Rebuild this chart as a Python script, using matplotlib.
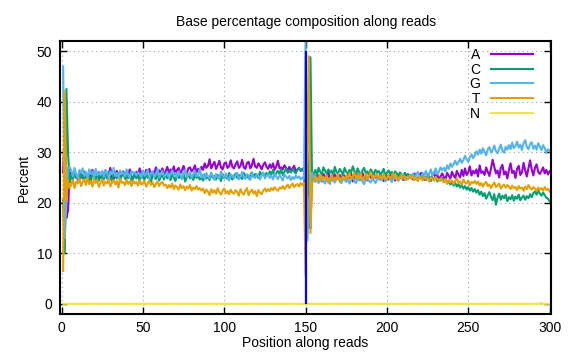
import matplotlib
matplotlib.use("Agg")
from matplotlib import pyplot as plt

# percent of each base at every read position (1..300)
a_pct = [
    26.0, 35.0, 17.0, 18.5, 26.0,
    25.8, 24.9, 26.3, 25.1, 24.6, 26.0, 25.4, 24.8, 26.2, 25.0, 25.7, 24.4, 25.9, 26.5, 25.2, 24.7, 25.6, 26.1, 24.9, 25.3,
    25.8, 26.4, 24.8, 25.5, 26.9, 25.0, 24.6, 25.9, 26.3, 25.1, 24.7, 25.6, 26.2, 25.3, 24.9, 25.8, 26.6, 25.2, 24.8, 25.7,
    26.1, 25.4, 26.8, 25.7, 26.3, 25.0, 26.5, 25.9, 26.7, 25.3, 26.2, 25.8, 27.0, 25.5, 26.4, 25.9, 26.8, 25.6, 26.2, 27.1,
    25.9, 26.6, 26.0, 27.2, 25.8, 26.5, 26.9, 25.7, 26.4, 27.3, 26.1, 25.9, 26.8, 27.0, 26.2, 26.6, 27.4, 26.0, 26.7, 26.3,
    27.1, 26.5, 27.8, 26.9, 27.3, 28.6, 26.8, 27.5, 28.1, 26.7, 27.4, 28.3, 27.0, 26.6, 27.7, 28.0, 26.9, 27.2, 28.4, 27.1,
    26.8, 27.6, 28.2, 26.9, 27.3, 28.5, 27.0, 26.7, 27.9, 28.1, 26.8, 27.4, 28.7, 27.2, 26.9, 27.8, 27.3, 26.6, 27.5, 28.0,
    27.1, 26.7, 27.6, 26.9, 27.8, 26.5, 27.2, 28.3, 26.8, 27.0, 26.6, 27.4, 26.9, 26.3, 27.1, 26.5, 26.8, 27.3, 26.2, 26.6,
    26.9, 26.3, 26.7, 26.1,
    22.0, 30.0, 16.0, 15.0, 26.0,
    25.3, 24.6, 25.8, 24.9, 25.4, 24.2, 25.7, 25.1, 24.5, 25.9, 24.8, 25.2, 24.4, 25.6, 25.0, 24.7, 25.5, 24.3, 25.8, 25.1,
    24.6, 25.4, 24.9, 25.7, 24.2, 25.3, 24.8, 25.6, 25.0, 24.5, 25.9, 24.7, 25.2, 24.4, 25.5, 25.1, 24.6, 25.8, 24.9, 25.3,
    24.7, 25.4, 25.0, 24.3, 25.7, 25.2, 24.6, 25.5, 24.9, 25.8, 24.4, 25.1, 25.6, 24.8, 25.3, 24.5, 25.9, 25.0, 24.7, 25.4,
    25.2, 24.6, 25.8, 25.0, 24.4, 25.5, 25.9, 24.8, 25.3, 24.5, 25.7, 25.1, 24.6, 25.4, 26.0, 24.9, 25.5, 24.7, 25.2, 25.8,
    25.1, 24.6, 25.9, 25.3, 24.8, 26.1, 25.4, 24.9, 26.3, 25.6, 25.0, 26.5, 25.3, 26.8, 25.5, 26.0, 27.2, 25.4, 26.3, 25.8,
    26.6, 25.2, 27.4, 25.9, 26.2, 25.5, 27.0, 26.1, 25.3, 26.8, 28.5, 27.1, 25.8, 26.4, 25.0, 26.9, 27.5, 25.6, 26.2, 24.8,
    26.5, 27.8, 25.9, 26.3, 24.9, 26.7, 27.3, 25.5, 26.0, 27.9, 26.4, 25.2, 26.8, 28.4, 26.6, 25.4, 26.9, 27.6, 26.1, 25.7,
    26.3, 27.0, 25.8, 26.5, 25.6, 26.2,
]
c_pct = [
    20.5, 10.0, 42.5, 30.0, 24.0,
    25.6, 24.5, 26.1, 24.9, 25.3, 24.2, 25.8, 25.0, 24.6, 26.0, 24.8, 25.4, 24.1, 25.7, 25.2, 24.7, 25.9, 24.4, 25.5, 25.1,
    24.6, 25.7, 24.9, 26.2, 25.0, 24.3, 25.6, 25.2, 24.8, 25.9, 24.5, 25.3, 26.0, 24.7, 25.4, 24.9, 25.8, 24.4, 25.1, 25.6,
    24.8, 25.5, 24.2, 25.9, 25.0, 24.6, 25.7, 24.9, 25.3, 24.1, 25.6, 25.2, 24.7, 25.8, 24.4, 25.1, 25.5, 24.6, 25.9, 24.8,
    25.3, 24.5, 25.7, 25.0, 24.3, 25.6, 24.9, 25.4, 24.7, 25.8, 24.2, 25.1, 25.5, 24.8, 25.2, 24.5, 25.7, 24.9, 25.3, 24.6,
    25.0, 24.4, 25.6, 24.8, 25.2, 24.5, 25.8, 24.9, 25.3, 24.6, 25.5, 25.0, 24.3, 25.7, 24.8, 25.4, 24.7, 25.9, 25.1, 24.6,
    25.3, 25.8, 24.9, 25.5, 25.1, 24.7, 25.9, 25.2, 25.6, 24.8, 25.4, 26.0, 25.1, 25.7, 25.3, 24.9, 26.1, 25.5, 25.8, 25.2,
    25.9, 25.4, 26.2, 25.6, 26.5, 25.3, 25.9, 26.3, 25.7, 26.6, 25.5, 26.1, 26.8, 25.9, 26.4, 26.0, 26.7, 26.2, 25.8, 26.5,
    26.9, 26.3, 26.6, 26.9,
    20.0, 27.5, 15.0, 48.8, 24.0,
    25.8, 26.5, 25.4, 26.9, 26.1, 25.6, 27.0, 26.3, 25.7, 26.6, 25.9, 26.4, 25.5, 27.1, 26.0, 25.8, 26.7, 26.2, 25.6, 26.9,
    26.1, 25.7, 26.5, 25.9, 27.2, 26.3, 25.6, 26.8, 26.0, 25.5, 26.4, 26.9, 25.8, 26.2, 25.4, 26.6, 26.1, 25.7, 26.5, 25.9,
    26.3, 25.6, 26.0, 26.7, 25.4, 25.9, 26.4, 25.7, 26.1, 25.5, 26.2, 25.8, 25.3, 26.0, 25.6, 25.1, 25.9, 25.4, 25.7, 25.2,
    25.5, 24.9, 25.6, 25.0, 24.6, 25.3, 24.8, 25.4, 24.5, 25.1, 24.7, 25.2, 24.3, 24.9, 24.6, 25.0, 24.2, 24.8, 24.4, 24.9,
    24.1, 24.6, 23.8, 24.3, 23.6, 24.0, 23.4, 23.9, 23.2, 23.7, 23.0, 23.5, 22.8, 23.3, 22.6, 23.1, 22.4, 22.9, 22.2, 22.7,
    22.0, 22.5, 21.6, 22.2, 21.3, 21.9, 20.8, 21.5, 22.1, 21.2, 20.5, 21.7, 19.6, 21.0, 21.8, 20.6, 21.4, 20.9, 21.6, 20.3,
    21.1, 20.7, 21.5, 20.4, 21.2, 20.8, 21.6, 20.5, 21.0, 21.4, 20.6, 21.3, 20.9, 21.7, 21.1, 21.9, 22.2, 21.6, 22.4, 21.8,
    21.4, 22.0, 21.5, 21.0, 20.8, 20.3,
]
g_pct = [
    47.0, 13.0, 20.0, 27.0, 27.0,
    26.4, 25.2, 26.9, 25.6, 24.8, 26.5, 25.9, 26.8, 25.3, 26.1, 24.9, 26.6, 25.7, 26.2, 25.0, 26.7, 25.4, 26.0, 25.5, 26.3,
    25.1, 26.5, 25.8, 24.7, 26.2, 25.6, 26.9, 25.3, 25.9, 24.8, 26.4, 25.7, 26.0, 25.2, 26.6, 25.5, 24.9, 26.3, 25.8, 26.1,
    25.4, 26.0, 25.7, 24.9, 26.4, 25.3, 25.8, 26.5, 24.7, 25.9, 26.2, 25.1, 25.6, 26.7, 25.0, 25.8, 26.3, 25.2, 25.5, 26.1,
    24.8, 25.7, 26.4, 25.3, 25.9, 25.0, 26.2, 25.6, 24.7, 25.8, 26.5, 25.1, 25.5, 26.0, 24.9, 25.7, 26.3, 25.2, 25.4, 26.8,
    25.0, 25.6, 24.6, 25.9, 25.2, 24.8, 26.0, 25.3, 24.5, 25.7, 25.1, 24.7, 26.2, 25.4, 24.9, 25.8, 25.0, 24.4, 25.6, 25.3,
    24.8, 25.5, 25.9, 24.6, 25.2, 26.1, 25.0, 24.7, 25.6, 25.3, 24.5, 25.8, 25.1, 24.9, 25.7, 25.2, 24.6, 25.4, 26.0, 24.8,
    25.3, 25.7, 24.9, 25.4, 24.6, 25.8, 25.1, 24.7, 25.5, 25.0, 24.4, 25.6, 25.2, 24.8, 25.3, 24.5, 25.1, 24.7, 25.4, 24.9,
    25.2, 24.6, 25.0, 24.8,
    52.5, 12.5, 20.0, 23.0, 26.0,
    24.8, 24.1, 25.0, 23.9, 24.6, 25.2, 24.3, 23.8, 24.9, 24.5, 23.7, 25.1, 24.4, 24.0, 24.7, 25.3, 24.2, 23.9, 24.8, 24.5,
    24.1, 24.9, 23.8, 24.6, 25.2, 24.3, 23.9, 24.8, 24.4, 25.0, 24.1, 23.7, 24.7, 25.1, 24.3, 24.0, 24.8, 24.5, 23.9, 24.6,
    25.0, 24.4, 24.9, 25.3, 24.2, 24.7, 25.5, 24.6, 24.1, 25.0, 25.4, 24.8, 24.3, 25.2, 24.9, 25.6, 24.5, 25.1, 24.7, 25.3,
    25.0, 25.8, 24.6, 25.4, 26.1, 25.2, 24.8, 25.9, 25.5, 26.3, 25.1, 25.7, 26.6, 25.3, 26.0, 26.8, 25.6, 26.2, 27.0, 26.4,
    26.9, 26.2, 27.4, 26.7, 27.8, 27.1, 27.6, 28.3, 27.5, 28.0, 28.7, 27.9, 28.4, 29.3, 28.6, 28.1, 29.0, 29.6, 28.8, 29.4,
    30.2, 29.5, 30.5, 29.7, 30.8, 30.1, 29.4, 30.6, 31.0, 29.9, 30.4, 31.3, 30.2, 29.8, 30.7, 31.5, 30.3, 29.9, 31.1, 30.5,
    31.4, 30.6, 31.9, 30.8, 31.2, 32.1, 30.9, 31.5, 30.4, 31.8, 32.4, 31.0, 30.6, 31.6, 32.0, 30.7, 31.3, 30.5, 31.8, 31.1,
    30.4, 31.4, 30.8, 29.9, 30.6, 30.2,
]
t_pct = [
    6.5, 42.0, 20.5, 24.5, 23.0,
    23.6, 24.5, 22.9, 24.2, 23.8, 24.8, 23.3, 24.1, 24.6, 23.5, 24.9, 23.7, 24.3, 23.2, 24.7, 23.9, 24.4, 23.1, 24.0, 24.6,
    23.4, 24.2, 23.8, 24.7, 23.2, 24.0, 24.5, 23.6, 24.3, 23.0, 24.8, 23.9, 24.1, 23.5, 24.6, 23.7, 24.2, 23.3, 24.4, 23.8,
    24.1, 23.4, 24.5, 23.6, 23.9, 24.3, 23.2, 23.8, 24.4, 23.5, 24.0, 23.1, 23.7, 24.2, 23.3, 23.9, 24.1, 23.4, 23.6, 22.9,
    23.5, 23.0, 23.8, 22.7, 23.4, 23.1, 22.6, 23.6, 22.9, 23.3, 22.5, 23.2, 22.8, 23.5, 22.4, 23.0, 22.7, 23.3, 22.6, 22.9,
    22.4, 22.8, 21.9, 22.6, 22.2, 21.5, 22.7, 22.0, 22.5, 21.8, 22.9, 22.1, 21.6, 22.4, 22.8, 21.9, 22.3, 21.7, 22.6, 22.0,
    21.8, 22.5, 22.1, 21.4, 22.7, 22.0, 21.6, 22.4, 22.9, 21.5, 22.2, 22.6, 21.8, 22.3, 21.3, 22.5, 22.0, 21.7, 22.4, 22.8,
    22.2, 22.7, 22.3, 22.9, 22.5, 23.1, 22.6, 22.4, 23.0, 22.8, 23.3, 22.7, 23.2, 23.6, 22.9, 23.4, 23.8, 23.1, 23.5, 23.7,
    23.2, 23.9, 23.5, 24.0,
    5.5, 30.0, 49.0, 14.0, 24.0,
    24.5, 25.3, 24.2, 24.9, 25.6, 24.4, 25.1, 24.7, 25.4, 23.9, 24.8, 25.5, 24.3, 25.0, 24.6, 25.7, 24.1, 24.9, 25.2, 24.5,
    25.4, 24.8, 25.9, 24.6, 25.2, 26.0, 24.7, 25.5, 24.9, 25.8, 24.3, 25.1, 25.7, 24.6, 25.3, 26.1, 24.8, 25.4, 25.0, 25.6,
    24.9, 25.3, 24.6, 25.7, 25.1, 24.5, 25.5, 24.8, 25.2, 25.9, 24.7, 25.3, 24.4, 25.0, 25.6, 24.8, 25.2, 24.5, 25.0, 25.4,
    24.7, 25.3, 24.5, 25.0, 24.3, 25.1, 24.8, 24.4, 25.2, 24.6, 24.9, 24.2, 25.0, 24.7, 24.4, 25.1, 24.6, 24.3, 24.8, 24.5,
    24.1, 24.7, 23.8, 24.5, 24.0, 24.4, 23.7, 24.3, 24.9, 23.9, 24.2, 23.6, 24.6, 24.0, 23.8, 24.4, 23.5, 24.1, 23.9, 24.3,
    23.7, 24.2, 23.4, 23.9, 23.2, 23.8, 24.1, 23.3, 23.6, 22.9, 23.5, 24.0, 23.1, 23.4, 23.8, 22.8, 23.3, 23.6, 23.0, 23.5,
    23.2, 22.7, 23.4, 22.9, 23.1, 22.5, 23.3, 22.8, 23.0, 22.4, 23.2, 22.7, 23.5, 22.9, 22.6, 23.1, 22.8, 22.3, 23.0, 22.6,
    22.9, 22.4, 23.1, 22.5, 22.8, 22.2,
]
n_pct = [
    0, 0, 0, 0, 0, 0, 0, 0, 0, 0, 0, 0, 0, 0, 0, 0, 0, 0, 0, 0, 0, 0, 0, 0, 0, 0, 0, 0, 0, 0,
    0, 0, 0, 0, 0, 0, 0, 0, 0, 0, 0, 0, 0, 0, 0, 0, 0, 0, 0, 0, 0, 0, 0, 0, 0, 0, 0, 0, 0, 0,
    0, 0, 0, 0, 0, 0, 0, 0, 0, 0, 0, 0, 0, 0, 0, 0, 0, 0, 0, 0, 0, 0, 0, 0, 0, 0, 0, 0, 0, 0,
    0, 0, 0, 0, 0, 0, 0, 0, 0, 0, 0, 0, 0, 0, 0, 0, 0, 0, 0, 0, 0, 0, 0, 0, 0, 0, 0, 0, 0, 0,
    0, 0, 0, 0, 0, 0, 0, 0, 0, 0, 0, 0, 0, 0, 0, 0, 0, 0, 0, 0, 0, 0, 0, 0, 0, 0, 0, 0, 0, 0,
    0, 0, 0, 0, 0, 0, 0, 0, 0, 0, 0, 0, 0, 0, 0, 0, 0, 0, 0, 0, 0, 0, 0, 0, 0, 0, 0, 0, 0, 0,
    0, 0, 0, 0, 0, 0, 0, 0, 0, 0, 0, 0, 0, 0, 0, 0, 0, 0, 0, 0, 0, 0, 0, 0, 0, 0, 0, 0, 0, 0,
    0, 0, 0, 0, 0, 0, 0, 0, 0, 0, 0, 0, 0, 0, 0, 0, 0, 0, 0, 0, 0, 0, 0, 0, 0, 0, 0, 0, 0, 0,
    0, 0, 0, 0, 0, 0, 0, 0, 0, 0, 0, 0, 0, 0, 0, 0, 0, 0, 0, 0, 0, 0, 0, 0, 0, 0, 0, 0, 0, 0,
    0, 0, 0, 0, 0, 0, 0, 0, 0, 0, 0, 0, 0, 0, 0, 0, 0, 0, 0, 0, 0, 0, 0, 0, 0.2, 0, 0, 0, 0, 0,
]
positions = list(range(1, len(a_pct) + 1))

# read 1 / read 2 boundary marker
boundary_pos = 150
boundary_top = 50

bases = ['A', 'C', 'G', 'T', 'N']
colors = ['#9400d3', '#009e73', '#56b4e9', '#e69f00', '#f0e442']
series = [a_pct, c_pct, g_pct, t_pct, n_pct]
for s in series:
    assert len(s) == len(positions), len(s)

plt.rcParams['font.family'] = ['Liberation Sans', 'DejaVu Sans']
plt.rcParams['font.size'] = 10

fig = plt.figure(figsize=(5.76, 3.6), dpi=100)
ax = fig.add_axes([0.104, 0.128, 0.853, 0.758])

for base, col, vals in zip(bases, colors, series):
    ax.plot(positions, vals, color=col, lw=1.5, label=base)

ax.vlines(boundary_pos, 0, boundary_top, color='#0000ff', lw=1.6, zorder=3)

ax.set_xlim(-1, 301)
ax.set_ylim(-2, 52)
ax.set_xticks(range(0, 301, 50))
ax.set_yticks(range(0, 51, 10))
ax.tick_params(direction='in', top=True, right=True, length=5, width=1,
               labelsize=10)
ax.tick_params(axis='x', pad=5)
ax.tick_params(axis='y', pad=5.5)
ax.grid(True, linestyle=(0, (1, 3)), color='#a0a0a0', lw=0.8)
for sp in ax.spines.values():
    sp.set_linewidth(1.5)

ax.set_title('Base percentage composition along reads', fontsize=10, pad=11)
ax.set_xlabel('Position along reads', fontsize=10, labelpad=1)
ax.set_ylabel('Percent', fontsize=10, labelpad=4)

ax.legend(loc='upper right', bbox_to_anchor=(0.963, 0.975), frameon=False,
          markerfirst=False, handlelength=3.0, handletextpad=0.8,
          labelspacing=0.05, borderaxespad=0, borderpad=0, fontsize=10)

fig.savefig('out.png', dpi=100)
